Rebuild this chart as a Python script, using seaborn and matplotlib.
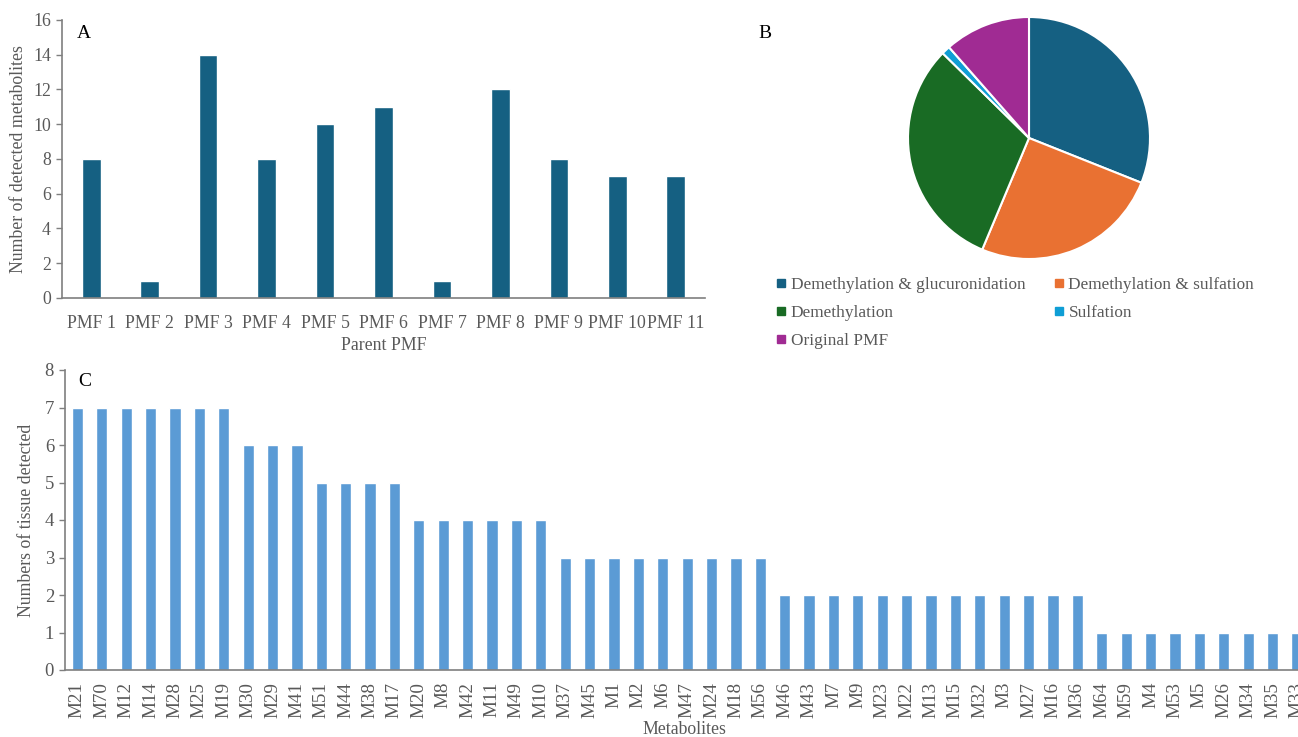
import matplotlib
matplotlib.use("Agg")
import matplotlib.pyplot as plt
from matplotlib.lines import Line2D
import seaborn as sns
import pandas as pd

# ---------------- data ----------------
parents = ["PMF 1", "PMF 2", "PMF 3", "PMF 4", "PMF 5", "PMF 6",
           "PMF 7", "PMF 8", "PMF 9", "PMF 10", "PMF 11"]
parent_counts = [8, 1, 14, 8, 10, 11, 1, 12, 8, 7, 7]

pie_labels = ["Demethylation & glucuronidation", "Demethylation & sulfation",
              "Demethylation", "Sulfation", "Original PMF"]
pie_values = [27, 22, 27, 1, 10]

metabolites = ["M21", "M70", "M12", "M14", "M28", "M25", "M19",
               "M30", "M29", "M41",
               "M51", "M44", "M38", "M17",
               "M20", "M8", "M42", "M11", "M49", "M10",
               "M37", "M45", "M1", "M2", "M6", "M47", "M24", "M18", "M56",
               "M46", "M43", "M7", "M9", "M23", "M22", "M13", "M15", "M32",
               "M3", "M27", "M16", "M36",
               "M64", "M59", "M4", "M53", "M5", "M26", "M34", "M35", "M33"]
tissue_counts = [7, 7, 7, 7, 7, 7, 7,
                 6, 6, 6,
                 5, 5, 5, 5,
                 4, 4, 4, 4, 4, 4,
                 3, 3, 3, 3, 3, 3, 3, 3, 3,
                 2, 2, 2, 2, 2, 2, 2, 2, 2, 2, 2, 2, 2,
                 1, 1, 1, 1, 1, 1, 1, 1, 1]

# ---------------- style ----------------
sns.set_style("white")
plt.rcParams["font.family"] = ["Liberation Serif", "DejaVu Serif"]
GRAY = "#595959"
AXC = "#7f7f7f"
BAR_A = "#156082"
BAR_C = "#5B9BD5"
PIE_COLORS = ["#156082", "#E97132", "#196B24", "#0F9ED5", "#A02B93"]

W, H = 1298, 737
fig = plt.figure(figsize=(W / 100, H / 100), dpi=100)


def px_axes(left, top, right, bottom):
    return fig.add_axes([left / W, 1 - bottom / H, (right - left) / W, (bottom - top) / H])


def style_axis(ax, size):
    for s in ["top", "right"]:
        ax.spines[s].set_visible(False)
    for s in ["left", "bottom"]:
        ax.spines[s].set_color(AXC)
        ax.spines[s].set_linewidth(1.2)
    ax.tick_params(axis="y", which="both", left=True, length=4, width=1, color=AXC,
                   labelcolor=GRAY, labelsize=size, pad=4)
    ax.tick_params(axis="x", which="both", bottom=False, labelcolor=GRAY, labelsize=size)


# ---------------- panel A ----------------
axA = px_axes(62, 20, 705, 298)
dfA = pd.DataFrame({"parent": parents, "count": parent_counts})
sns.barplot(data=dfA, x="parent", y="count", color=BAR_A, width=0.32,
            saturation=1, ax=axA)
axA.set_ylim(0, 16)
axA.set_yticks(range(0, 17, 2))
axA.set_xlim(-0.5, len(parents) - 0.5)
style_axis(axA, 12.8)
axA.set_xlabel("Parent PMF", color=GRAY, fontsize=12.8, labelpad=3)
axA.set_ylabel("Number of detected metabolites", color=GRAY, fontsize=12.8, labelpad=4)
axA.tick_params(axis="x", pad=9)
fig.text(77 / W, 1 - 33 / H, "A", fontsize=14, color="black", va="center")

# ---------------- panel B ----------------
cx, cy, r = 1029, 138, 121
axB = px_axes(cx - r, cy - r, cx + r, cy + r)
wedges, _ = axB.pie(pie_values, colors=PIE_COLORS, startangle=90, counterclock=False,
                    wedgeprops=dict(edgecolor="white", linewidth=1.5), radius=1)
axB.set_xlim(-1.0, 1.0)
axB.set_ylim(-1.0, 1.0)
axB.set_aspect("equal")
axB.axis("off")
fig.text(758 / W, 1 - 33 / H, "B", fontsize=14, color="black", va="center")

order = [0, 2, 4, 1, 3]
handles = [Line2D([0], [0], marker="s", linestyle="none", markersize=5.5,
                  markerfacecolor=PIE_COLORS[i], markeredgecolor=PIE_COLORS[i])
           for i in order]
labels = [pie_labels[i] for i in order]
leg = fig.legend(handles, labels, ncol=2, loc="upper left",
                 bbox_to_anchor=(777 / W, 1 - 277 / H), frameon=False,
                 fontsize=12.4, handlelength=0.5, handletextpad=0.3,
                 columnspacing=1.7, labelspacing=0.68, borderaxespad=0, borderpad=0)
for t in leg.get_texts():
    t.set_color(GRAY)

# ---------------- panel C ----------------
spacing = 24.39
first_center = 77.4
left_c = first_center - spacing / 2
right_c = first_center + spacing * (len(metabolites) - 0.5)
axC = px_axes(left_c, 370, right_c, 670)
dfC = pd.DataFrame({"met": metabolites, "n": tissue_counts})
sns.barplot(data=dfC, x="met", y="n", color=BAR_C, width=0.46, saturation=1, ax=axC)
axC.set_ylim(0, 8)
axC.set_yticks(range(0, 9))
axC.set_xlim(-0.5, len(metabolites) - 0.5)
style_axis(axC, 13.5)
axC.tick_params(axis="x", labelrotation=90, pad=5, labelsize=13.8)
axC.set_xlabel("")
axC.set_ylabel("Numbers of tissue detected", color=GRAY, fontsize=12.8, labelpad=7)
fig.text(684 / W, 1 - 730 / H, "Metabolites", color=GRAY, fontsize=12.8,
         ha="center", va="center")
fig.text(78 / W, 1 - 382 / H, "C", fontsize=14, color="black", va="center")

fig.savefig("out.png", dpi=100)
